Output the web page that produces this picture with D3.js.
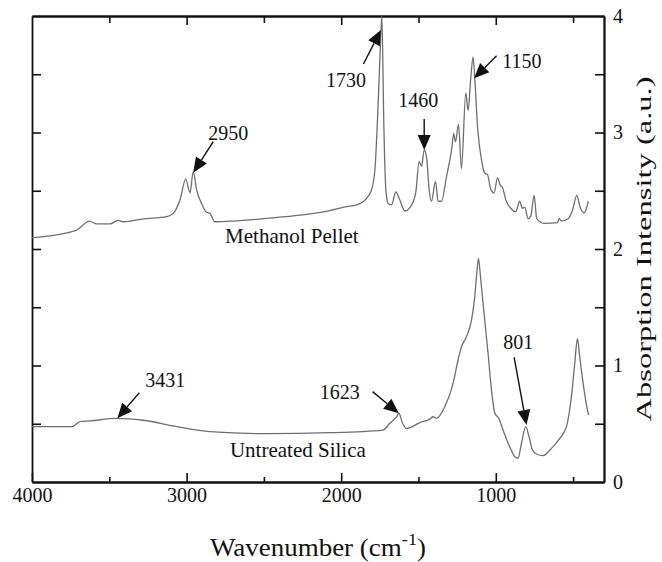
<!DOCTYPE html>
<html>
<head>
<meta charset="utf-8">
<script src="https://cdn.jsdelivr.net/npm/d3@7"></script>
<style>
  body { margin: 0; background: #fff; }
  text { font-family: "Liberation Serif", "Times New Roman", serif; fill: #111; }
</style>
</head>
<body>
<script>
// Spectrum data (wavenumber cm-1, absorbance a.u.)
var methanolWave = [4000, 3711, 3629, 3582, 3496, 3442, 3410, 3280, 3129, 3086, 3043, 3006, 2978, 2957, 2935, 2903, 2871, 2849, 2817, 2698, 2483, 2267, 2073, 1965, 1901, 1836, 1804, 1782, 1767, 1750, 1737, 1724, 1711, 1696, 1674, 1647, 1625, 1588, 1545, 1517, 1496, 1480, 1463, 1448, 1431, 1416, 1390, 1373, 1351, 1319, 1286, 1272, 1261, 1241, 1222, 1194, 1179, 1162, 1147, 1136, 1118, 1092, 1071, 1054, 1032, 1011, 989, 972, 957, 935, 903, 871, 845, 828, 813, 791, 774, 752, 735, 688, 601, 590, 575, 532, 504, 476, 455, 429, 401];
var methanolAbs = [2.097, 2.163, 2.24, 2.215, 2.215, 2.246, 2.234, 2.258, 2.277, 2.306, 2.42, 2.60, 2.483, 2.664, 2.506, 2.39, 2.315, 2.306, 2.234, 2.24, 2.263, 2.29, 2.33, 2.363, 2.378, 2.435, 2.506, 2.678, 3.05, 3.62, 4.0, 3.05, 2.506, 2.39, 2.378, 2.49, 2.435, 2.326, 2.378, 2.49, 2.75, 2.71, 2.85, 2.79, 2.506, 2.41, 2.58, 2.41, 2.41, 2.62, 2.85, 2.99, 2.92, 3.07, 2.69, 3.34, 3.19, 3.465, 3.65, 3.465, 3.05, 2.76, 2.65, 2.64, 2.51, 2.48, 2.61, 2.55, 2.53, 2.42, 2.35, 2.32, 2.41, 2.35, 2.36, 2.26, 2.28, 2.46, 2.26, 2.22, 2.226, 2.26, 2.24, 2.26, 2.33, 2.46, 2.36, 2.31, 2.41];

var silicaWave = [4000, 3743, 3690, 3625, 3452, 3280, 3064, 2849, 2483, 2073, 1729, 1685, 1642, 1627, 1603, 1577, 1491, 1427, 1405, 1384, 1330, 1276, 1244, 1222, 1190, 1157, 1136, 1121, 1112, 1097, 1076, 1050, 1028, 1006, 981, 953, 910, 877, 856, 834, 806, 785, 763, 737, 694, 640, 586, 543, 511, 489, 472, 457, 429, 407, 399];
var silicaAbs = [0.475, 0.475, 0.518, 0.524, 0.547, 0.53, 0.475, 0.432, 0.415, 0.423, 0.446, 0.504, 0.56, 0.59, 0.504, 0.46, 0.51, 0.54, 0.56, 0.547, 0.646, 0.847, 1.047, 1.16, 1.247, 1.39, 1.59, 1.82, 1.92, 1.734, 1.448, 1.105, 0.79, 0.59, 0.547, 0.446, 0.303, 0.217, 0.203, 0.332, 0.475, 0.389, 0.275, 0.24, 0.226, 0.289, 0.375, 0.475, 0.73, 1.02, 1.23, 1.075, 0.79, 0.618, 0.575];

// Tick values
var xMajorTicks = [4000, 3000, 2000, 1000];
var xMinorTicks = [3500, 2500, 1500, 500];
var yLabelTicks = [0, 1, 2, 3, 4];
var yAllTicks = [0.5, 1, 1.5, 2, 2.5, 3, 3.5];

// Peak annotations: label, wavenumber and absorbance of arrow tip
var peakLabels = ["2950", "1730", "1460", "1150", "3431", "1623", "801"];
var peakTipWave = [2957, 1743, 1463, 1140, 3448, 1627, 801];
var peakTipAbs = [2.655, 3.88, 2.85, 3.465, 0.547, 0.59, 0.489];

// Curve names and where they sit
var curveNames = ["Methanol Pellet", "Untreated Silica"];
var curveNameWave = [2319, 2280];
var curveNameAbs = [2.054, 0.212];

var width = 662, height = 562;
var margin = {left: 32, right: 58, top: 16, bottom: 80};

var svg = d3.select("body").append("svg").attr("width", width).attr("height", height);

var x = d3.scaleLinear().domain([4000, 300]).range([margin.left, width - margin.right]);
var y = d3.scaleLinear().domain([0, 4]).range([height - margin.bottom, margin.top]);

// Axes (ticks point inward)
function styleAxis(g) {
    g.select(".domain").attr("stroke", "#111").attr("stroke-width", 1.8);
    g.selectAll(".tick line").attr("stroke", "#111").attr("stroke-width", 1.6);
    g.selectAll("text").style("font-size", "20px").attr("fill", "#111");
}

var plotBottom = y(0), plotTop = y(4), plotLeft = x(4000), plotRight = x(300);

svg.append("g").attr("transform", "translate(0," + plotBottom + ")")
    .call(d3.axisBottom(x).tickValues(xMajorTicks).tickFormat(d3.format("d")).tickSize(-9).tickSizeOuter(0).tickPadding(6))
    .call(styleAxis);
svg.append("g").attr("transform", "translate(0," + plotBottom + ")")
    .call(d3.axisBottom(x).tickValues(xMinorTicks).tickFormat("").tickSize(-5).tickSizeOuter(0))
    .call(styleAxis);
svg.append("g").attr("transform", "translate(0," + plotTop + ")")
    .call(d3.axisTop(x).tickValues(xMajorTicks.slice(1)).tickFormat("").tickSize(-9).tickSizeOuter(0))
    .call(styleAxis);
svg.append("g").attr("transform", "translate(0," + plotTop + ")")
    .call(d3.axisTop(x).tickValues(xMinorTicks).tickFormat("").tickSize(-7).tickSizeOuter(0))
    .call(styleAxis);
svg.append("g").attr("transform", "translate(" + plotLeft + ",0)")
    .call(d3.axisLeft(y).tickValues(yAllTicks).tickFormat("").tickSize(-9).tickSizeOuter(0))
    .call(styleAxis);
svg.append("g").attr("transform", "translate(" + plotRight + ",0)")
    .call(d3.axisRight(y).tickValues(yAllTicks).tickFormat("").tickSize(-9).tickSizeOuter(0))
    .call(styleAxis);
svg.append("g").attr("transform", "translate(" + plotRight + ",0)")
    .call(d3.axisRight(y).tickValues(yLabelTicks).tickFormat(d3.format("d")).tickSize(0).tickSizeOuter(0).tickPadding(9))
    .call(styleAxis);

// Spectra
var line = d3.line()
    .x(function(d) { return x(d[0]); })
    .y(function(d) { return y(d[1]); })
    .curve(d3.curveMonotoneX);

[[methanolWave, methanolAbs], [silicaWave, silicaAbs]].forEach(function(s) {
    svg.append("path")
        .datum(d3.zip(s[0], s[1]))
        .attr("d", line)
        .attr("fill", "none")
        .attr("stroke", "#6e6e6e")
        .attr("stroke-width", 1.3);
});

// Arrow tails and label offsets from the tip, pixels
var tailDx = [20, -17.5, 0, 22.4, 22, -26.3, -12.4];
var tailDy = [-31, 34, -31, -22.6, -25.6, -21.6, -67.7];
var textDx = [35, -35, -6, 28, 48, -59, -8.4];
var textDy = [-33, 57, -43, -10, -31, -14, -76];
var textAnchor = ["middle", "middle", "middle", "start", "middle", "middle", "middle"];

peakLabels.forEach(function(lbl, i) {
    var tx = x(peakTipWave[i]), ty = y(peakTipAbs[i]);
    var sx = tx + tailDx[i], sy = ty + tailDy[i];
    var ang = Math.atan2(ty - sy, tx - sx);
    var headLen = 15, headW = 6.5;
    var bx = tx - headLen * Math.cos(ang), by = ty - headLen * Math.sin(ang);
    svg.append("line")
        .attr("x1", sx).attr("y1", sy).attr("x2", bx).attr("y2", by)
        .attr("stroke", "#111").attr("stroke-width", 1.4);
    svg.append("polygon")
        .attr("points", [
            [tx, ty],
            [bx + headW * Math.sin(ang), by - headW * Math.cos(ang)],
            [bx - headW * Math.sin(ang), by + headW * Math.cos(ang)]
        ].join(" "))
        .attr("fill", "#111");
    svg.append("text")
        .attr("x", tx + textDx[i]).attr("y", ty + textDy[i])
        .attr("text-anchor", textAnchor[i])
        .style("font-size", "20px")
        .text(lbl);
});

// Curve names
curveNames.forEach(function(n, i) {
    svg.append("text")
        .attr("x", x(curveNameWave[i])).attr("y", y(curveNameAbs[i]))
        .attr("text-anchor", "middle")
        .style("font-size", "21px")
        .text(n);
});

// X title
var xt = svg.append("text")
    .attr("transform", "translate(" + (plotLeft + plotRight) / 2 + ",556) scale(1.08,1)")
    .attr("text-anchor", "middle")
    .style("font-size", "25px");
xt.append("tspan").text("Wavenumber (cm");
xt.append("tspan").attr("dy", -11).style("font-size", "17px").text("-1");
xt.append("tspan").attr("dy", 11).text(")");

// Y title
svg.append("text")
    .attr("transform", "translate(651," + (plotTop + plotBottom) / 2 + ") rotate(-90)")
    .attr("text-anchor", "middle")
    .attr("textLength", 345)
    .attr("lengthAdjust", "spacingAndGlyphs")
    .style("font-size", "21px")
    .text("Absorption Intensity (a.u.)");
</script>
</body>
</html>
